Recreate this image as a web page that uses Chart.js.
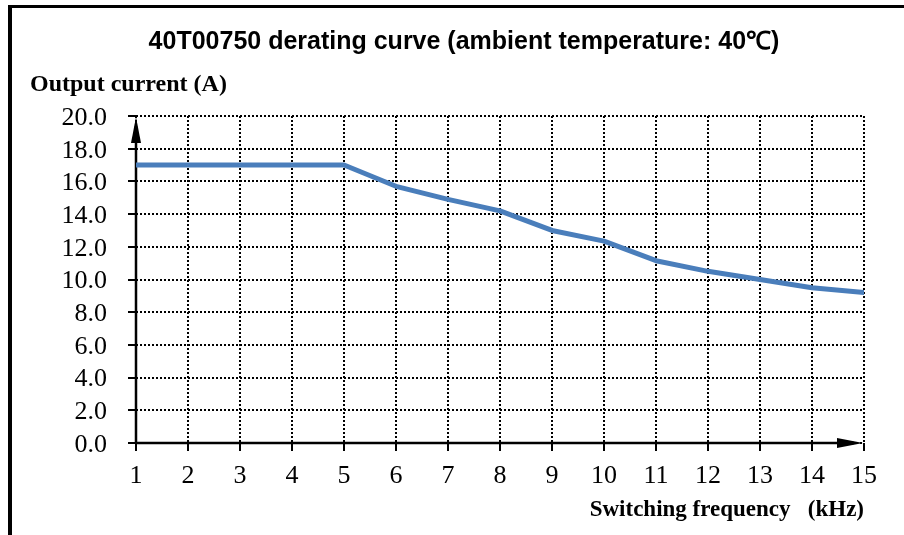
<!DOCTYPE html>
<html>
<head>
<meta charset="utf-8">
<script src="https://cdn.jsdelivr.net/npm/chart.js@4/dist/chart.umd.min.js"></script>
<style>
  html, body { margin: 0; padding: 0; background: #ffffff; }
  canvas { display: block; }
</style>
</head>
<body>
<canvas id="c" width="904" height="535" style="width:904px;height:535px"></canvas>
<script>
const frequency = [1, 2, 3, 4, 5, 6, 7, 8, 9, 10, 11, 12, 13, 14, 15];
const outputCurrent = [17.0, 17.0, 17.0, 17.0, 17.0, 15.7, 14.9, 14.2, 13.0, 12.35, 11.15, 10.5, 10.0, 9.5, 9.2];
const yTickLabels = ['0.0', '2.0', '4.0', '6.0', '8.0', '10.0', '12.0', '14.0', '16.0', '18.0', '20.0'];
const titleText = '40T00750 derating curve (ambient temperature: 40\u2103)';
const yTitleText = 'Output current (A)';
const xTitleText = 'Switching frequency   (kHz)';

const serif = '"Liberation Serif", "Times New Roman", serif';
const sans = '"Liberation Sans", Arial, sans-serif';

const decorations = {
  id: 'decorations',
  beforeDraw(chart) {
    const ctx = chart.ctx;
    ctx.save();
    ctx.fillStyle = '#ffffff';
    ctx.fillRect(0, 0, chart.width, chart.height);
    ctx.fillStyle = '#000000';
    ctx.fillRect(8, 5, 4, chart.height - 5);
    ctx.fillRect(8, 5, chart.width - 8, 3);
    ctx.textBaseline = 'alphabetic';
    ctx.font = 'bold 25px ' + sans;
    ctx.textAlign = 'center';
    ctx.fillText(titleText, 464, 49);
    ctx.font = 'bold 24px ' + serif;
    ctx.textAlign = 'left';
    ctx.fillText(yTitleText, 30, 91);
    ctx.font = 'bold 23px ' + serif;
    ctx.textAlign = 'right';
    ctx.fillText(xTitleText, 864, 516);
    ctx.restore();
  },
  beforeDatasetsDraw(chart) {
    const ctx = chart.ctx;
    const xs = chart.scales.x, ys = chart.scales.y;
    const x0 = xs.getPixelForValue(1), x1 = xs.getPixelForValue(15);
    const y0 = ys.getPixelForValue(0), y1 = ys.getPixelForValue(20);
    ctx.save();
    ctx.strokeStyle = '#000000';
    ctx.fillStyle = '#000000';
    ctx.lineWidth = 2.5;
    ctx.beginPath();
    ctx.moveTo(x0, y0 + 1);
    ctx.lineTo(x0, y1 + 10);
    ctx.moveTo(x0 - 1, y0);
    ctx.lineTo(x1 - 10, y0);
    ctx.stroke();
    ctx.beginPath();
    ctx.moveTo(x0, y1 + 1);
    ctx.lineTo(x0 - 5, y1 + 27);
    ctx.lineTo(x0 + 5, y1 + 27);
    ctx.closePath();
    ctx.fill();
    ctx.beginPath();
    ctx.moveTo(x1 - 1, y0);
    ctx.lineTo(x1 - 27, y0 - 5);
    ctx.lineTo(x1 - 27, y0 + 5);
    ctx.closePath();
    ctx.fill();
    ctx.restore();
  }
};

new Chart(document.getElementById('c'), {
  type: 'line',
  data: {
    datasets: [{
      data: frequency.map((f, i) => ({ x: f, y: outputCurrent[i] })),
      borderColor: '#4a7ebb',
      borderWidth: 5,
      pointRadius: 0,
      tension: 0,
      borderCapStyle: 'round',
      borderJoinStyle: 'round',
      fill: false
    }]
  },
  options: {
    responsive: false,
    animation: false,
    devicePixelRatio: 1,
    layout: { padding: { top: 116, right: 40, bottom: 0, left: 0 } },
    plugins: { legend: { display: false }, title: { display: false }, tooltip: { enabled: false } },
    scales: {
      x: {
        type: 'linear',
        min: 1, max: 15,
        afterFit(scale) { scale.height = 92; },
        ticks: {
          stepSize: 1,
          color: '#000000',
          font: { family: serif, size: 26 },
          padding: 10,
          maxRotation: 0,
          autoSkip: false
        },
        grid: {
          color: '#000000',
          lineWidth: 2,
          tickColor: '#000000',
          tickWidth: 2,
          tickLength: 8,
          tickBorderDash: []
        },
        border: { display: false, dash: [2, 2] }
      },
      y: {
        type: 'linear',
        min: 0, max: 20,
        afterFit(scale) { scale.width = 136; },
        ticks: {
          stepSize: 2,
          color: '#000000',
          font: { family: serif, size: 26 },
          padding: 21,
          labelOffset: 2,
          autoSkip: false,
          callback: (v) => yTickLabels[Math.round(v / 2)]
        },
        grid: {
          color: '#000000',
          lineWidth: 2,
          tickColor: '#000000',
          tickWidth: 2,
          tickLength: 8,
          tickBorderDash: []
        },
        border: { display: false, dash: [2, 2] }
      }
    }
  },
  plugins: [decorations]
});
</script>
</body>
</html>
